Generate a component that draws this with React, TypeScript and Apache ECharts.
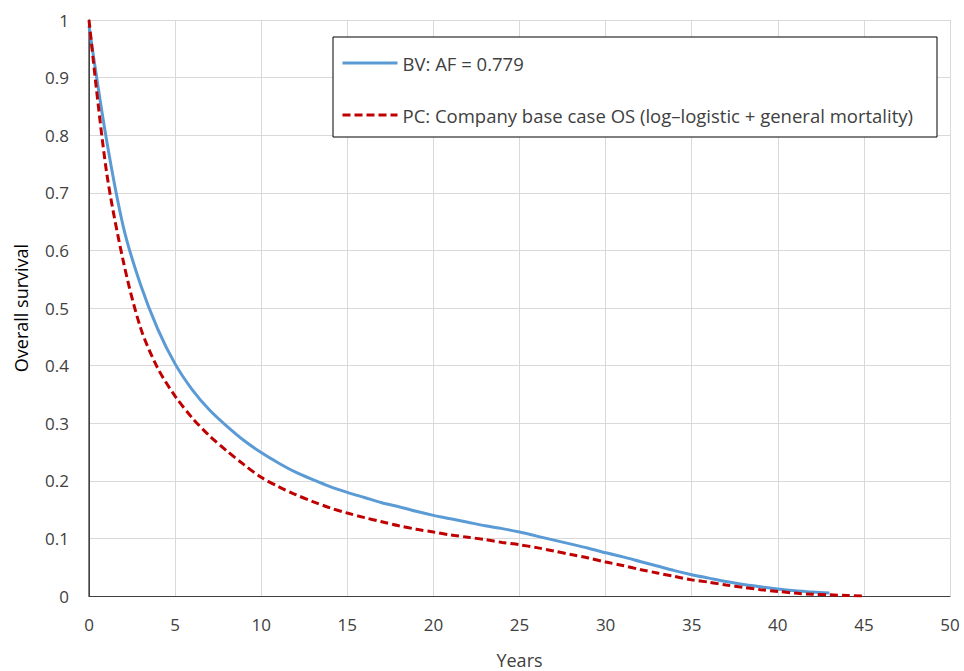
import React, { useEffect, useRef } from "react";
import * as echarts from "echarts";

const years = [0, 1, 2, 3, 4, 5, 6, 7, 8, 9, 10, 11, 12, 13, 14, 15, 16, 17, 18, 19, 20, 21, 22, 23, 24, 25, 26, 27, 28, 29, 30, 31, 32, 33, 34, 35, 36, 37, 38, 39, 40, 41, 42, 43, 44, 45];
const bvValues = [0.99, 0.795, 0.64, 0.54, 0.463, 0.403, 0.358, 0.323, 0.295, 0.27, 0.249, 0.231, 0.215, 0.202, 0.19, 0.18, 0.171, 0.162, 0.155, 0.147, 0.14, 0.134, 0.128, 0.122, 0.117, 0.111, 0.104, 0.097, 0.09, 0.083, 0.075, 0.068, 0.06, 0.052, 0.044, 0.037, 0.031, 0.025, 0.02, 0.016, 0.012, 0.009, 0.007, 0.005, null, null];
const pcValues = [1.0, 0.74, 0.58, 0.465, 0.395, 0.347, 0.309, 0.278, 0.252, 0.228, 0.206, 0.19, 0.176, 0.164, 0.153, 0.144, 0.136, 0.129, 0.122, 0.116, 0.111, 0.106, 0.102, 0.098, 0.093, 0.089, 0.084, 0.078, 0.072, 0.066, 0.059, 0.053, 0.046, 0.04, 0.034, 0.028, 0.024, 0.019, 0.015, 0.011, 0.008, 0.005, 0.003, 0.002, 0.001, 0];

const seriesNames = ["BV: AF = 0.779", "PC: Company base case OS (log\u2013logistic + general mortality)"];
const FONT = "Open Sans";

export default function App() {
  const ref = useRef<HTMLDivElement>(null);
  useEffect(() => {
    if (!ref.current) return;
    const chart = echarts.init(ref.current, null, { renderer: "svg" });
    const pairs = (vals: (number | null)[]) =>
      years.map((x, i) => [x, vals[i]]).filter((p) => p[1] !== null);
    chart.setOption({
      animation: false,
      backgroundColor: "#ffffff",
      textStyle: { fontFamily: FONT },
      grid: { left: 89, right: 14, top: 20, bottom: 75, containLabel: false, outerBoundsMode: "none" },
      legend: {
        orient: "vertical",
        left: 333,
        top: 37,
        data: seriesNames,
        itemWidth: 55,
        itemHeight: 14,
        itemGap: 32,
        padding: [16, 24, 12, 8],
        borderColor: "#000000",
        borderWidth: 1,
        backgroundColor: "#ffffff",
        itemStyle: { opacity: 0 },
        lineStyle: { width: 3 },
        textStyle: { fontFamily: FONT, fontSize: 18.5, color: "#404040", lineHeight: 20 },
      },
      xAxis: [
        {
          type: "value",
          min: 0,
          max: 50,
          interval: 5,
          name: "Years",
          nameLocation: "middle",
          nameGap: 55,
          nameTextStyle: { fontFamily: FONT, fontSize: 18, color: "#404040" },
          axisLine: { show: false },
          axisTick: { show: false },
          axisLabel: { fontFamily: FONT, fontSize: 17, color: "#404040", margin: 20 },
          splitLine: { show: true, lineStyle: { color: "#D9D9D9", width: 1 } },
        },
        {
          type: "value",
          min: 0,
          max: 50,
          position: "top",
          axisLine: { show: true, lineStyle: { color: "#404040", width: 1 } },
          axisTick: { show: false },
          axisLabel: { show: false },
          splitLine: { show: false },
        },
      ],
      yAxis: [
        {
          type: "value",
          min: 0,
          max: 1,
          interval: 0.1,
          name: "Overall survival",
          nameLocation: "middle",
          nameGap: 59,
          nameTextStyle: { fontFamily: FONT, fontSize: 18, color: "#000000" },
          axisLine: { show: true, lineStyle: { color: "#000000", width: 1 } },
          axisTick: { show: false },
          axisLabel: { fontFamily: FONT, fontSize: 17, color: "#404040", margin: 20 },
          splitLine: { show: true, showMinLine: false, lineStyle: { color: "#D9D9D9", width: 1 } },
        },
        {
          type: "value",
          min: 0,
          max: 1,
          position: "right",
          axisLine: { show: true, lineStyle: { color: "#595959", width: 1.5 } },
          axisTick: { show: false },
          axisLabel: { show: false },
          splitLine: { show: false },
        },
      ],
      series: [
        {
          name: seriesNames[0],
          type: "line",
          data: pairs(bvValues),
          symbol: "none",
          smooth: 0.3,
          lineStyle: { color: "#5B9BD5", width: 3 },
          itemStyle: { color: "#5B9BD5" },
          z: 3,
        },
        {
          name: seriesNames[1],
          type: "line",
          data: pairs(pcValues),
          symbol: "none",
          smooth: 0.3,
          lineStyle: { color: "#C00000", width: 3, type: [8, 4] },
          itemStyle: { color: "#C00000" },
          z: 4,
        },
      ],
    });
    return () => chart.dispose();
  }, []);
  return <div ref={ref} style={{ width: 964, height: 671, position: "absolute", left: 0, top: 0 }} />;
}
